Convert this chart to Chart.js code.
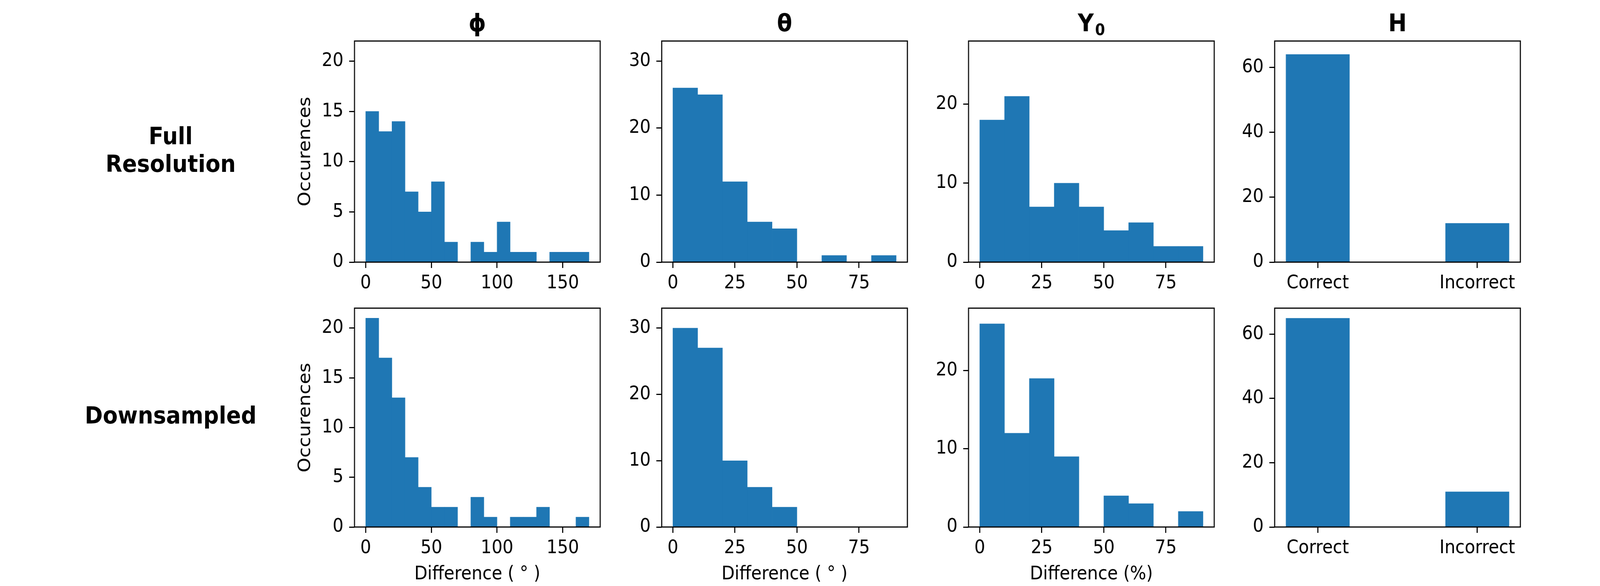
<!DOCTYPE html>
<html>
<head>
<meta charset="utf-8">
<script src="https://cdn.jsdelivr.net/npm/chart.js@4.4.1/dist/chart.umd.min.js"></script>
<style>
  html, body { margin: 0; padding: 0; overflow: hidden; background: #fff; }
  #fig { position: absolute; left: 0; top: 0; width: 4500px; height: 1500px; transform-origin: 0 0; font-family: 'DejaVu Sans'; }
  #fig canvas { position: absolute; }
  .rowlabel { position: absolute; left: 180px; width: 600px; height: 300px; display: flex; align-items: center; justify-content: center;
              text-align: center; font-weight: bold; font-size: 61px; line-height: 71px; color: #000; }
</style>
</head>
<body>
<div id="fig">
  <div class="rowlabel" style="top:233px">Full<br>Resolution</div>
  <div class="rowlabel" style="top:912px">Downsampled</div>
</div>
<script>
// histogram counts, bins of 10 starting at 0
var binWidth = 10;
var phiFull   = [15, 13, 14, 7, 5, 8, 2, 0, 2, 1, 4, 1, 1, 0, 1, 1, 1];
var phiDown   = [21, 17, 13, 7, 4, 2, 2, 0, 3, 1, 0, 1, 1, 2, 0, 0, 1];
var thetaFull = [26, 25, 12, 6, 5, 0, 1, 0, 1];
var thetaDown = [30, 27, 10, 6, 3, 0, 0, 0, 0];
var y0Full    = [18, 21, 7, 10, 7, 4, 5, 2, 2];
var y0Down    = [26, 12, 19, 9, 0, 4, 3, 0, 2];
var hLabels   = ['Correct', 'Incorrect'];
var hFull     = [64, 12];
var hDown     = [65, 11];

var colTitles = ['ϕ', 'θ', 'Y', 'H'];
var colSubs   = ['', '', '0', ''];
var xTitles   = ['Difference ( ° )', 'Difference ( ° )', 'Difference (%)', ''];
var xTicks    = [[0, 50, 100, 150], [0, 25, 50, 75], [0, 25, 50, 75], [0, 1]];
var yTicks    = [[0, 5, 10, 15, 20], [0, 10, 20, 30], [0, 10, 20], [0, 20, 40, 60]];
var xRange    = [[-8.5, 178.5], [-4.5, 94.5], [-4.5, 94.5], [-0.27, 1.27]];
var yMax      = [22, 33, 28, 68.1];

var rows = [[phiFull, thetaFull, y0Full, hFull], [phiDown, thetaDown, y0Down, hDown]];

// the window can report a different css size than 4500x1500, so stretch the figure to fill it
var fig = document.getElementById('fig');
var sx = window.innerWidth / 4500 || 1;
var sy = window.innerHeight / 1500 || 1;
fig.style.transform = 'scale(' + sx + ',' + sy + ')';

Chart.defaults.font.family = 'DejaVu Sans';
Chart.defaults.color = '#000';

// matplotlib-style box around the axes
var framePlugin = {
    id: 'frame',
    afterDatasetsDraw: function (chart) {
        var a = chart.chartArea, c = chart.ctx;
        c.save();
        c.strokeStyle = '#000';
        c.lineWidth = 3;
        c.strokeRect(a.left, a.top, a.right - a.left, a.bottom - a.top);
        c.restore();
    }
};

// bold column title with optional subscript, centred over the plot
var colTitlePlugin = {
    id: 'colTitle',
    afterDraw: function (chart, args, opts) {
        if (!opts.text) return;
        var c = chart.ctx, a = chart.chartArea;
        c.save();
        c.fillStyle = '#000';
        c.textBaseline = 'alphabetic';
        c.textAlign = 'left';
        c.font = 'bold 62px "DejaVu Sans"';
        var w1 = c.measureText(opts.text).width;
        c.font = 'bold 40px "DejaVu Sans"';
        var w2 = opts.sub ? c.measureText(opts.sub).width + 4 : 0;
        var x0 = (a.left + a.right) / 2 - (w1 + w2) / 2;
        c.font = 'bold 62px "DejaVu Sans"';
        c.fillText(opts.text, x0, 80);
        if (opts.sub) {
            c.font = 'bold 40px "DejaVu Sans"';
            c.fillText(opts.sub, x0 + w1 + 4, 90);
        }
        c.restore();
    }
};

var plotLeft = [997, 1861, 2724, 3585];
var tickGrid = { display: true, offset: false, drawOnChartArea: false, drawTicks: true, tickLength: 15, tickWidth: 3, tickColor: '#000' };

function makePanel(row, col) {
    var values = rows[row][col];
    var canvas = document.createElement('canvas');
    canvas.width = 1091;
    canvas.height = row === 0 ? 750 : 756;
    canvas.style.left = (plotLeft[col] - 200) + 'px';
    canvas.style.top = (row === 0 ? 0 : 744) + 'px';
    fig.appendChild(canvas);

    var points = values.map(function (v, i) {
        return { x: col === 3 ? i : i * binWidth + binWidth / 2, y: v };
    });

    new Chart(canvas.getContext('2d'), {
        type: 'bar',
        data: {
            datasets: [{
                data: points,
                backgroundColor: '#1f77b4',
                borderWidth: 0,
                barPercentage: col === 3 ? 0.4 : 1,
                categoryPercentage: 1
            }]
        },
        options: {
            responsive: false,
            animation: false,
            devicePixelRatio: 1,
            layout: { padding: { left: 0, right: 200, top: row === 0 ? 105 : 40, bottom: 0 } },
            plugins: {
                legend: { display: false },
                tooltip: { enabled: false },
                colTitle: row === 0 ? { text: colTitles[col], sub: colSubs[col] } : { text: '' }
            },
            scales: {
                x: {
                    type: 'linear',
                    min: xRange[col][0],
                    max: xRange[col][1],
                    offset: false,
                    afterBuildTicks: function (s) { s.ticks = xTicks[col].map(function (v) { return { value: v }; }); },
                    afterFit: function (s) { s.height = row === 0 ? 79 : 151; },
                    grid: tickGrid,
                    border: { display: false },
                    ticks: {
                        font: { size: 48 }, color: '#000', padding: 11, maxRotation: 0, autoSkip: false,
                        callback: function (v) { return col === 3 ? hLabels[v] : v; }
                    },
                    title: {
                        display: row === 1 && col < 3,
                        text: xTitles[col],
                        color: '#000',
                        font: { size: 48 },
                        padding: { top: 0, bottom: 1 }
                    }
                },
                y: {
                    min: 0,
                    max: yMax[col],
                    afterBuildTicks: function (s) { s.ticks = yTicks[col].map(function (v) { return { value: v }; }); },
                    afterFit: function (s) { s.width = 200; },
                    grid: tickGrid,
                    border: { display: false },
                    ticks: { font: { size: 48 }, color: '#000', padding: 16 },
                    title: {
                        display: col === 0,
                        text: 'Occurences',
                        color: '#000',
                        font: { size: 48 },
                        padding: { top: 34, bottom: 0 }
                    }
                }
            }
        },
        plugins: [framePlugin, colTitlePlugin]
    });
}

for (var r = 0; r < 2; r++) {
    for (var c = 0; c < 4; c++) {
        makePanel(r, c);
    }
}
</script>
</body>
</html>
